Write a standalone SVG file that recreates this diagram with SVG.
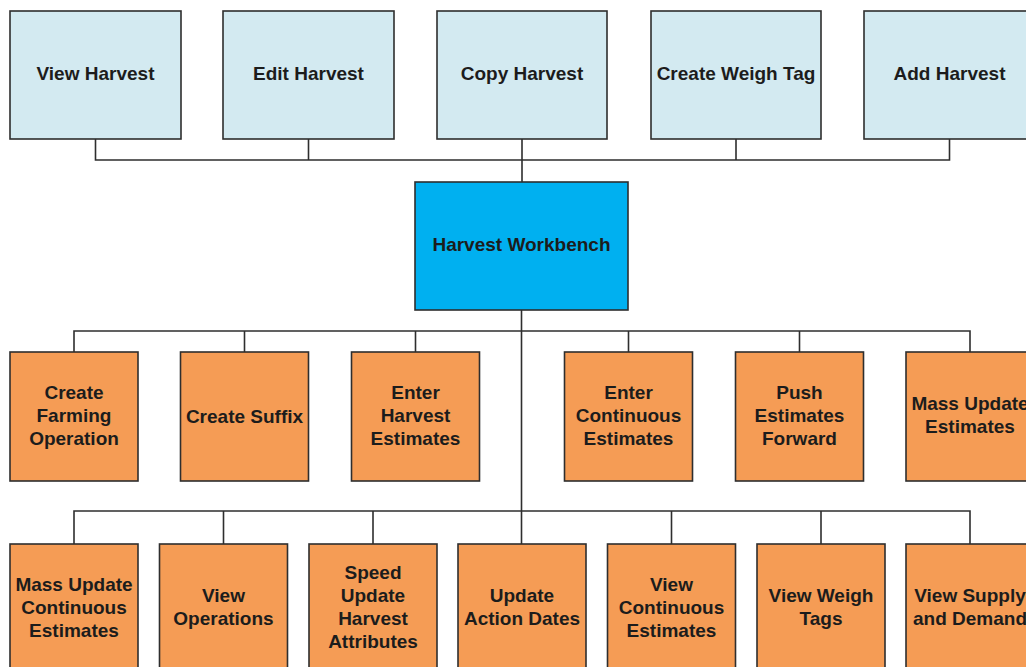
<svg xmlns="http://www.w3.org/2000/svg" width="1026" height="667" viewBox="0 0 1026 667">
<style>
.top{fill:#d3eaf1;stroke:#2e2e2e;stroke-width:1.6}
.hub{fill:#00b0f0;stroke:#2e2e2e;stroke-width:1.6}
.task{fill:#f59c55;stroke:#2e2e2e;stroke-width:1.6}
.lbl{font-family:"Liberation Sans",Arial,sans-serif;font-weight:bold;font-size:19px;fill:#1c1c1c;text-anchor:middle}
.conn{fill:none;stroke:#2e2e2e;stroke-width:1.6}
</style>
<rect width="1026" height="667" fill="#ffffff"/>
<g id="connectors">
<path class="conn" d="M95.5 139V160H949.5V139M308.5 139V160M522 139V182M736 139V160"/>
<path class="conn" d="M521.5 310V544M74 352V331H970V352M244.5 331V352M415.5 331V352M628.5 331V352M799.5 331V352"/>
<path class="conn" d="M74 544V511H970V544M223.5 511V544M373 511V544M671.5 511V544M821 511V544"/>
</g>
<g id="view-harvest"><rect class="top" x="10" y="11" width="171" height="128"/><text class="lbl" x="95.5" y="80">View Harvest</text></g>
<g id="edit-harvest"><rect class="top" x="223" y="11" width="171" height="128"/><text class="lbl" x="308.5" y="80">Edit Harvest</text></g>
<g id="copy-harvest"><rect class="top" x="437" y="11" width="170" height="128"/><text class="lbl" x="522" y="80">Copy Harvest</text></g>
<g id="create-weigh-tag"><rect class="top" x="651" y="11" width="170" height="128"/><text class="lbl" x="736" y="80">Create Weigh Tag</text></g>
<g id="add-harvest"><rect class="top" x="864" y="11" width="171" height="128"/><text class="lbl" x="949.5" y="80">Add Harvest</text></g>
<g id="harvest-workbench"><rect class="hub" x="415" y="182" width="213" height="128"/><text class="lbl" x="521.5" y="251">Harvest Workbench</text></g>
<g id="create-farming-operation"><rect class="task" x="10" y="352" width="128" height="129"/><text class="lbl" x="74" y="399">Create</text><text class="lbl" x="74" y="422">Farming</text><text class="lbl" x="74" y="445">Operation</text></g>
<g id="create-suffix"><rect class="task" x="180.5" y="352" width="128" height="129"/><text class="lbl" x="244.5" y="422.5">Create Suffix</text></g>
<g id="enter-harvest-estimates"><rect class="task" x="351.5" y="352" width="128" height="129"/><text class="lbl" x="415.5" y="399">Enter</text><text class="lbl" x="415.5" y="422">Harvest</text><text class="lbl" x="415.5" y="445">Estimates</text></g>
<g id="enter-continuous-estimates"><rect class="task" x="564.5" y="352" width="128" height="129"/><text class="lbl" x="628.5" y="399">Enter</text><text class="lbl" x="628.5" y="422">Continuous</text><text class="lbl" x="628.5" y="445">Estimates</text></g>
<g id="push-estimates-forward"><rect class="task" x="735.5" y="352" width="128" height="129"/><text class="lbl" x="799.5" y="399">Push</text><text class="lbl" x="799.5" y="422">Estimates</text><text class="lbl" x="799.5" y="445">Forward</text></g>
<g id="mass-update-estimates"><rect class="task" x="906" y="352" width="128" height="129"/><text class="lbl" x="970" y="410">Mass Update</text><text class="lbl" x="970" y="433">Estimates</text></g>
<g id="mass-update-continuous-estimates"><rect class="task" x="10" y="544" width="128" height="130"/><text class="lbl" x="74" y="590.5">Mass Update</text><text class="lbl" x="74" y="613.5">Continuous</text><text class="lbl" x="74" y="636.5">Estimates</text></g>
<g id="view-operations"><rect class="task" x="159.5" y="544" width="128" height="130"/><text class="lbl" x="223.5" y="602">View</text><text class="lbl" x="223.5" y="625">Operations</text></g>
<g id="speed-update-harvest-attributes"><rect class="task" x="309" y="544" width="128" height="130"/><text class="lbl" x="373" y="579">Speed</text><text class="lbl" x="373" y="602">Update</text><text class="lbl" x="373" y="625">Harvest</text><text class="lbl" x="373" y="648">Attributes</text></g>
<g id="update-action-dates"><rect class="task" x="458" y="544" width="128" height="130"/><text class="lbl" x="522" y="602">Update</text><text class="lbl" x="522" y="625">Action Dates</text></g>
<g id="view-continuous-estimates"><rect class="task" x="607.5" y="544" width="128" height="130"/><text class="lbl" x="671.5" y="590.5">View</text><text class="lbl" x="671.5" y="613.5">Continuous</text><text class="lbl" x="671.5" y="636.5">Estimates</text></g>
<g id="view-weigh-tags"><rect class="task" x="757" y="544" width="128" height="130"/><text class="lbl" x="821" y="602">View Weigh</text><text class="lbl" x="821" y="625">Tags</text></g>
<g id="view-supply-and-demand"><rect class="task" x="906" y="544" width="128" height="130"/><text class="lbl" x="970" y="602">View Supply</text><text class="lbl" x="970" y="625">and Demand</text></g>
</svg>
